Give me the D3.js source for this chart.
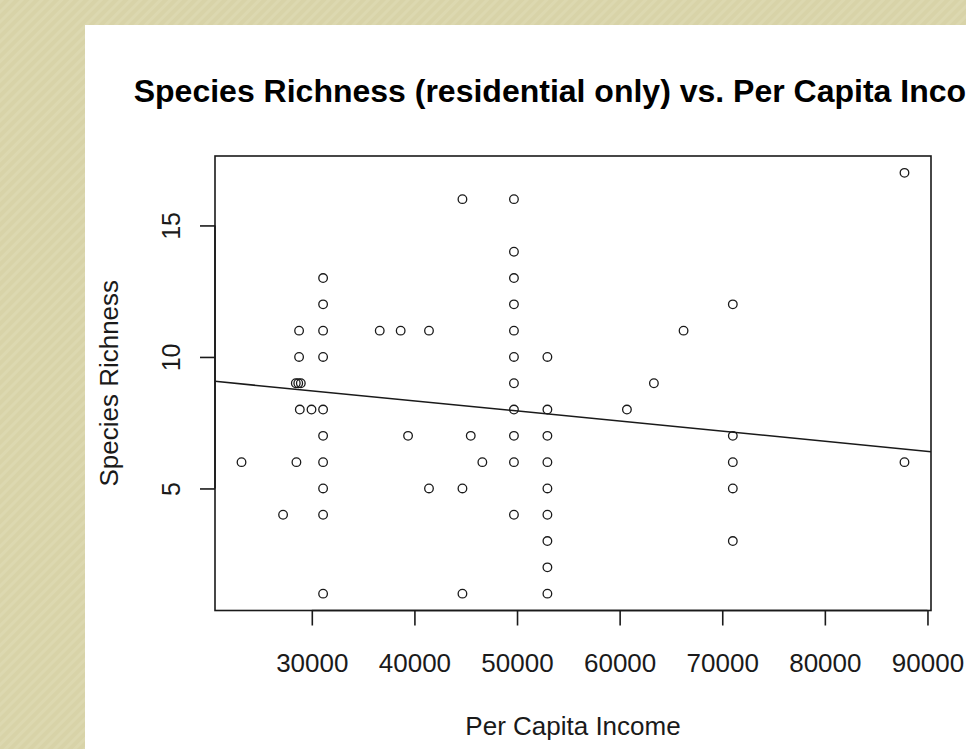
<!DOCTYPE html>
<html>
<head>
<meta charset="utf-8">
<script src="https://cdn.jsdelivr.net/npm/d3@7"></script>
<style>
  html, body { margin: 0; padding: 0; background: #fff; }
  svg { display: block; }
</style>
</head>
<body>
<svg id="chart" width="966" height="749"></svg>
<script>
// ---- data ----
const incomeValues = [
  23150, 27200, 28500,
  28440, 28680, 28930,
  28760, 28760, 28830, 29970,
  31100, 31100, 31100, 31100, 31100, 31100, 31100, 31100, 31100, 31100,
  36620, 38660, 41420, 39380, 41420,
  44680, 44680, 44680, 45490, 46620,
  49700, 49700, 49700, 49700, 49700, 49700, 49700, 49700, 49700, 49700, 49700,
  52960, 52960, 52960, 52960, 52960, 52960, 52960, 52960, 52960,
  60710, 63340, 66230,
  71030, 71030, 71030, 71030, 71030,
  87760, 87760
];
const richnessValues = [
  6, 4, 6,
  9, 9, 9,
  11, 10, 8, 8,
  13, 12, 11, 10, 8, 7, 6, 5, 4, 1,
  11, 11, 11, 7, 5,
  16, 5, 1, 7, 6,
  16, 14, 13, 12, 11, 10, 9, 8, 7, 6, 4,
  10, 8, 7, 6, 5, 4, 3, 2, 1,
  8, 9, 11,
  12, 7, 6, 5, 3,
  17, 6
];
const xTickValues = [30000, 40000, 50000, 60000, 70000, 80000, 90000];
const yTickValues = [5, 10, 15];
const fitIntercept = 9.86;     // abline of lm fit
const fitSlope = -0.0000383;
const titleText = "Species Richness (residential only) vs. Per Capita Income";
const xLabelText = "Per Capita Income";
const yLabelText = "Species Richness";

// ---- layout ----
const svg = d3.select("#chart");
const W = 966, H = 749;
const plot = { left: 215, right: 931, top: 156, bottom: 610.5 };
const ink = "#1a1a1a";
const font = "'Liberation Sans', Arial, Helvetica, sans-serif";

// background with diagonal stripes
const defs = svg.append("defs");
const pat = defs.append("pattern")
  .attr("id", "stripes")
  .attr("patternUnits", "userSpaceOnUse")
  .attr("width", 7).attr("height", 7)
  .attr("patternTransform", "rotate(45)");
pat.append("rect").attr("width", 7).attr("height", 7).attr("fill", "#d8d3a8");
pat.append("rect").attr("width", 3).attr("height", 7).attr("fill", "#dcd8b0");

svg.append("rect").attr("width", W).attr("height", H).attr("fill", "url(#stripes)");
svg.append("rect").attr("x", 85).attr("y", 25).attr("width", W - 85).attr("height", H - 25).attr("fill", "#ffffff");

// scales (R style: 4% padding on data range)
const xExt = d3.extent(incomeValues), yExt = d3.extent(richnessValues);
const xPad = (xExt[1] - xExt[0]) * 0.04, yPad = (yExt[1] - yExt[0]) * 0.04;
const x = d3.scaleLinear().domain([xExt[0] - xPad, xExt[1] + xPad]).range([plot.left, plot.right]);
const y = d3.scaleLinear().domain([yExt[0] - yPad, yExt[1] + yPad]).range([plot.bottom, plot.top]);

// clip for regression line
defs.append("clipPath").attr("id", "plotclip")
  .append("rect").attr("x", plot.left).attr("y", plot.top)
  .attr("width", plot.right - plot.left).attr("height", plot.bottom - plot.top);

// points
const pts = incomeValues.map((v, i) => ({ x: v, y: richnessValues[i] }));
svg.append("g").selectAll("circle").data(pts).join("circle")
  .attr("cx", d => x(d.x)).attr("cy", d => y(d.y)).attr("r", 4.3)
  .attr("fill", "none").attr("stroke", ink).attr("stroke-width", 1.3);

// regression line
const xd = x.domain();
svg.append("line")
  .attr("clip-path", "url(#plotclip)")
  .attr("x1", x(xd[0])).attr("y1", y(fitIntercept + fitSlope * xd[0]))
  .attr("x2", x(xd[1])).attr("y2", y(fitIntercept + fitSlope * xd[1]))
  .attr("stroke", ink).attr("stroke-width", 1.5);

// box
svg.append("rect")
  .attr("x", plot.left).attr("y", plot.top)
  .attr("width", plot.right - plot.left).attr("height", plot.bottom - plot.top)
  .attr("fill", "none").attr("stroke", ink).attr("stroke-width", 1.6);

// x axis
const xAxis = d3.axisBottom(x).tickValues(xTickValues).tickSize(15).tickPadding(30)
  .tickFormat(d3.format("d"));
const gx = svg.append("g").attr("transform", `translate(0,${plot.bottom})`).call(xAxis);
gx.select(".domain").attr("d", `M${x(xTickValues[0])},0H${x(xTickValues[xTickValues.length - 1])}`)
  .attr("stroke", ink).attr("stroke-width", 1.6);
gx.selectAll(".tick line").attr("stroke", ink).attr("stroke-width", 1.6);
gx.selectAll(".tick text").attr("font-family", font).attr("font-size", 26).attr("fill", ink)
  .attr("dy", null).attr("y", 61.5);

// y axis
const yAxis = d3.axisLeft(y).tickValues(yTickValues).tickSize(15).tickFormat(d3.format("d"));
const gy = svg.append("g").attr("transform", `translate(${plot.left},0)`).call(yAxis);
gy.select(".domain").attr("d", `M0,${y(yTickValues[0])}V${y(yTickValues[yTickValues.length - 1])}`)
  .attr("stroke", ink).attr("stroke-width", 1.6);
gy.selectAll(".tick line").attr("stroke", ink).attr("stroke-width", 1.6);
gy.selectAll(".tick text")
  .attr("font-family", font).attr("font-size", 25).attr("fill", ink)
  .attr("x", null).attr("dy", null)
  .attr("text-anchor", "middle")
  .attr("transform", "translate(-35,0) rotate(-90)");

// title
svg.append("text")
  .attr("x", (plot.left + plot.right) / 2).attr("y", 101.5)
  .attr("text-anchor", "middle")
  .attr("font-family", font).attr("font-weight", "bold").attr("font-size", 32)
  .attr("fill", "#000")
  .text(titleText);

// axis titles
svg.append("text")
  .attr("x", (plot.left + plot.right) / 2).attr("y", 735)
  .attr("text-anchor", "middle")
  .attr("font-family", font).attr("font-size", 26).attr("fill", ink)
  .text(xLabelText);

svg.append("text")
  .attr("transform", `translate(118,${(plot.top + plot.bottom) / 2}) rotate(-90)`)
  .attr("text-anchor", "middle")
  .attr("font-family", font).attr("font-size", 26).attr("fill", ink)
  .text(yLabelText);
</script>
</body>
</html>
